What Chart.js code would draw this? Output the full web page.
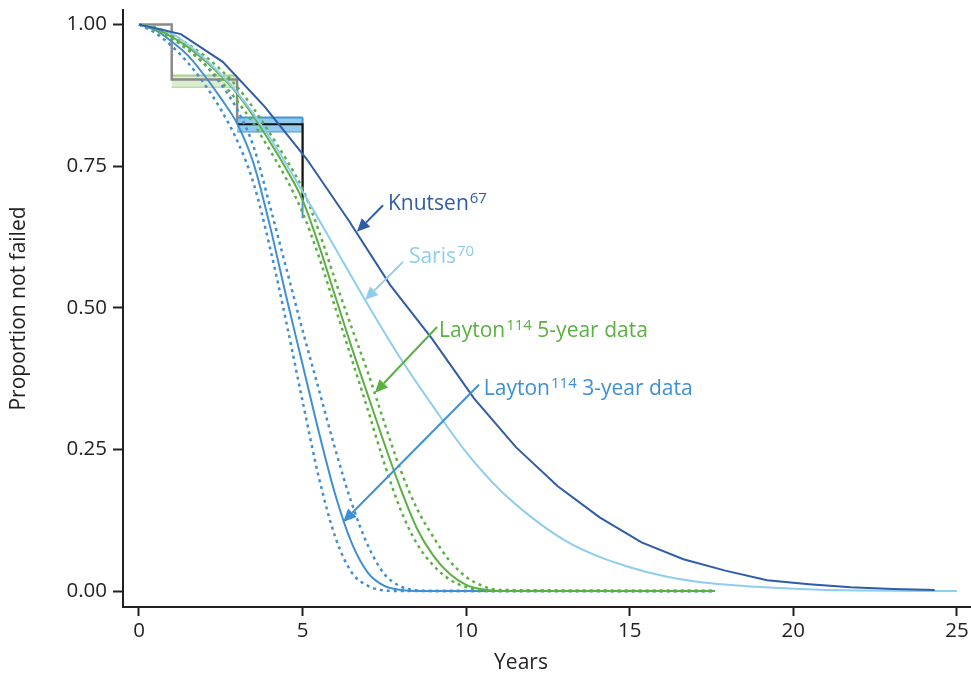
<!DOCTYPE html>
<html>
<head>
<meta charset="utf-8">
<script src="https://cdn.jsdelivr.net/npm/chart.js@4.4.1/dist/chart.umd.min.js"></script>
<style>
  html, body { margin: 0; padding: 0; background: #fff; }
  #wrap { width: 971px; height: 677px; }
</style>
</head>
<body>
<div id="wrap"><canvas id="survivalChart" width="971" height="677"></canvas></div>
<script>
// Axis ticks
const xTicks = [0, 5, 10, 15, 20, 25];
const yTicks = [0, 0.25, 0.5, 0.75, 1];

// Knutsen model (piecewise linear)
const knutsenYears = [0, 1.28, 2.56, 3.84, 5.12, 6.4, 7.68, 8.96, 10.24, 11.52, 12.8, 14.08, 15.36, 16.64, 17.92, 19.2, 20.48, 21.76, 23.04, 24.32];
const knutsenSurv = [1, 0.983, 0.934, 0.855, 0.763, 0.655, 0.54, 0.445, 0.34, 0.254, 0.185, 0.13, 0.086, 0.056, 0.036, 0.019, 0.012, 0.0065, 0.0035, 0.002];

// Saris model
const sarisYears = [0, 1, 2, 3, 4, 5, 6, 7, 8, 9, 10, 11, 12, 13, 14, 15, 16, 17, 18, 19, 20, 21, 22, 23, 24, 25];
const sarisSurv = [1, 0.984, 0.94, 0.88, 0.8, 0.705, 0.605, 0.505, 0.41, 0.325, 0.245, 0.18, 0.13, 0.09, 0.062, 0.042, 0.027, 0.017, 0.011, 0.007, 0.004, 0.002, 0.001, 0.0005, 0.0002, 0];

// Layton fits, with lower / upper bounds
const laytonYears = [0, 0.5, 1, 1.5, 2, 2.5, 3, 3.5, 4, 4.5, 5, 5.5, 6, 6.5, 7, 7.5, 8, 8.5, 9, 9.5, 10, 10.5, 11, 17.6];
const layton3Mid = [1, 0.99, 0.97, 0.945, 0.91, 0.87, 0.825, 0.755, 0.645, 0.52, 0.4, 0.28, 0.17, 0.085, 0.032, 0.009, 0.002, 0, 0, 0, 0, 0, 0, 0];
const layton3Lo = [1, 0.985, 0.962, 0.932, 0.895, 0.85, 0.795, 0.72, 0.607, 0.475, 0.335, 0.2, 0.095, 0.033, 0.009, 0.001, 0, 0, 0, 0, 0, 0, 0, 0];
const layton3Hi = [1, 0.992, 0.977, 0.956, 0.93, 0.895, 0.85, 0.785, 0.68, 0.57, 0.46, 0.355, 0.25, 0.155, 0.08, 0.03, 0.008, 0.001, 0, 0, 0, 0, 0, 0];
const layton5Mid = [1, 0.993, 0.978, 0.96, 0.937, 0.91, 0.878, 0.838, 0.793, 0.745, 0.69, 0.61, 0.52, 0.43, 0.345, 0.26, 0.18, 0.11, 0.062, 0.03, 0.011, 0.003, 0, 0];
const layton5Lo = [1, 0.99, 0.975, 0.955, 0.93, 0.9, 0.865, 0.825, 0.778, 0.728, 0.668, 0.59, 0.5, 0.41, 0.319, 0.225, 0.143, 0.083, 0.045, 0.02, 0.007, 0.001, 0, 0];
const layton5Hi = [1, 0.995, 0.982, 0.965, 0.945, 0.92, 0.89, 0.852, 0.808, 0.762, 0.71, 0.635, 0.548, 0.465, 0.385, 0.297, 0.213, 0.145, 0.095, 0.053, 0.025, 0.009, 0.002, 0];

// Kaplan-Meier steps and their intervals
const kmGreyYears = [0, 1, 3];
const kmGreySurv = [1, 0.903, 0.824];
const kmBlackYears = [3, 5];
const kmBlackSurv = [0.824, 0.69];
const band1Years = [1, 3];
const band1Hi = [0.91, 0.91];
const band1Lo = [0.89, 0.89];
const band2Years = [3, 5];
const band2Hi = [0.836, 0.836];
const band2Lo = [0.811, 0.811];
const band2DropYears = [5, 5];
const band2DropSurv = [0.836, 0.658];

const pts = (xs, ys) => xs.map((x, i) => ({ x: x, y: ys[i] }));

const DARK_BLUE = "#2f5ca8";
const LIGHT_BLUE = "#8fcdee";
const MID_BLUE = "#3f8fd4";
const GREEN = "#5bb043";
const INK = "#231f20";
const FONT = "'Open Sans', 'Noto Sans', sans-serif";

function curve(data, color, dashed) {
  return {
    data: data,
    borderColor: color,
    borderWidth: dashed ? 2.5 : 2,
    borderDash: dashed ? [3, 4] : [],
    pointRadius: 0,
    showLine: true,
    fill: false,
    cubicInterpolationMode: "monotone",
  };
}

function step(data, color, extra) {
  return Object.assign({ data: data, borderColor: color, borderWidth: 2, showLine: true, pointRadius: 0 }, extra || {});
}

// Labels with arrows: text anchor and arrow ends are in axis units
const notes = [
  { text: "Knutsen", sup: "67", tail: "", color: DARK_BLUE, tx: 7.61, ty: 0.672, ax: 7.46, ay: 0.681, bx: 6.66, by: 0.634 },
  { text: "Saris", sup: "70", tail: "", color: LIGHT_BLUE, tx: 8.25, ty: 0.579, ax: 8.07, ay: 0.581, bx: 6.91, by: 0.514 },
  { text: "Layton", sup: "114", tail: " 5-year data", color: GREEN, tx: 9.17, ty: 0.449, ax: 9.11, ay: 0.466, bx: 7.21, by: 0.35 },
  { text: "Layton", sup: "114", tail: " 3-year data", color: MID_BLUE, tx: 10.54, ty: 0.346, ax: 10.39, ay: 0.364, bx: 6.24, by: 0.122 },
];

const notesPlugin = {
  id: "notes",
  afterDatasetsDraw(chart) {
    const { ctx, scales } = chart;
    const xs = scales.x, ys = scales.y;
    ctx.save();
    notes.forEach((n) => {
      const x0 = xs.getPixelForValue(n.ax), y0 = ys.getPixelForValue(n.ay);
      const x1 = xs.getPixelForValue(n.bx), y1 = ys.getPixelForValue(n.by);
      const ang = Math.atan2(y1 - y0, x1 - x0);
      const head = 13, half = 6;
      const hx = x1 - head * Math.cos(ang), hy = y1 - head * Math.sin(ang);
      ctx.strokeStyle = n.color;
      ctx.fillStyle = n.color;
      ctx.lineWidth = 2;
      ctx.beginPath();
      ctx.moveTo(x0, y0);
      ctx.lineTo(hx, hy);
      ctx.stroke();
      ctx.beginPath();
      ctx.moveTo(x1, y1);
      ctx.lineTo(hx + half * Math.sin(ang), hy - half * Math.cos(ang));
      ctx.lineTo(hx - half * Math.sin(ang), hy + half * Math.cos(ang));
      ctx.closePath();
      ctx.fill();

      let tx = xs.getPixelForValue(n.tx);
      const ty = ys.getPixelForValue(n.ty);
      ctx.textBaseline = "alphabetic";
      ctx.textAlign = "left";
      ctx.font = "21px " + FONT;
      ctx.fillText(n.text, tx, ty);
      tx += ctx.measureText(n.text).width + 1;
      ctx.font = "15px " + FONT;
      ctx.fillText(n.sup, tx, ty - 7);
      tx += ctx.measureText(n.sup).width;
      if (n.tail) {
        ctx.font = "21px " + FONT;
        ctx.fillText(n.tail, tx, ty);
      }
    });

    // x axis title
    ctx.fillStyle = INK;
    ctx.font = "21px " + FONT;
    ctx.textAlign = "center";
    ctx.textBaseline = "middle";
    ctx.fillText("Years", 521, 663);
    ctx.restore();
  },
};

const ctx = document.getElementById("survivalChart").getContext("2d");

new Chart(ctx, {
  type: "scatter",
  data: {
    datasets: [
      Object.assign(curve(pts(knutsenYears, knutsenSurv), DARK_BLUE, false), { cubicInterpolationMode: "default", tension: 0 }),
      curve(pts(sarisYears, sarisSurv), LIGHT_BLUE, false),
      curve(pts(laytonYears, layton5Mid), GREEN, false),
      curve(pts(laytonYears, layton5Lo), GREEN, true),
      curve(pts(laytonYears, layton5Hi), GREEN, true),
      curve(pts(laytonYears, layton3Mid), MID_BLUE, false),
      curve(pts(laytonYears, layton3Lo), MID_BLUE, true),
      curve(pts(laytonYears, layton3Hi), MID_BLUE, true),
      step(pts(kmBlackYears, kmBlackSurv), "#111", { stepped: true }),
      step(pts(kmGreyYears, kmGreySurv), "#8a8a8a", { stepped: true, borderWidth: 2.5 }),
      step(pts(band2DropYears, band2DropSurv), "#4a93d3"),
      step(pts(band2Years, band2Hi), "#4a93d3", { fill: "+1", backgroundColor: "#8ecbee" }),
      step(pts(band2Years, band2Lo), "#4a93d3"),
      step(pts(band1Years, band1Hi), "#a8d08c", { fill: "+1", backgroundColor: "#dcedcf" }),
      step(pts(band1Years, band1Lo), "#a8d08c"),
    ],
  },
  options: {
    responsive: false,
    animation: false,
    layout: { padding: { top: 10, right: 0, left: 0, bottom: 0 } },
    plugins: {
      legend: { display: false },
      tooltip: { enabled: false },
      filler: { propagate: false },
    },
    scales: {
      x: {
        type: "linear",
        min: -0.489,
        max: 25.43,
        afterFit: (s) => { s.height = 70; s.paddingLeft = 0; s.paddingRight = 0; },
        afterBuildTicks: (s) => { s.ticks = xTicks.map((v) => ({ value: v })); },
        border: { display: true, color: INK, width: 2 },
        grid: { drawOnChartArea: false, drawTicks: true, tickLength: 9, tickWidth: 2, tickColor: INK },
        ticks: { color: INK, padding: 3, font: { family: FONT, size: 20.5 }, maxRotation: 0 },
      },
      y: {
        type: "linear",
        min: -0.0282,
        max: 1.0256,
        afterFit: (s) => { s.width = 123; s.paddingTop = 0; s.paddingBottom = 0; },
        afterBuildTicks: (s) => { s.ticks = yTicks.map((v) => ({ value: v })); },
        border: { display: true, color: INK, width: 2 },
        grid: { drawOnChartArea: false, drawTicks: true, tickLength: 10, tickWidth: 2, tickColor: INK },
        ticks: { color: INK, padding: 6, font: { family: FONT, size: 20.5 }, callback: (v) => Number(v).toFixed(2) },
        title: { display: true, text: "Proportion not failed", color: INK, font: { family: FONT, size: 21 }, padding: { top: 6, bottom: 0 } },
      },
    },
  },
  plugins: [notesPlugin],
});
</script>
</body>
</html>
